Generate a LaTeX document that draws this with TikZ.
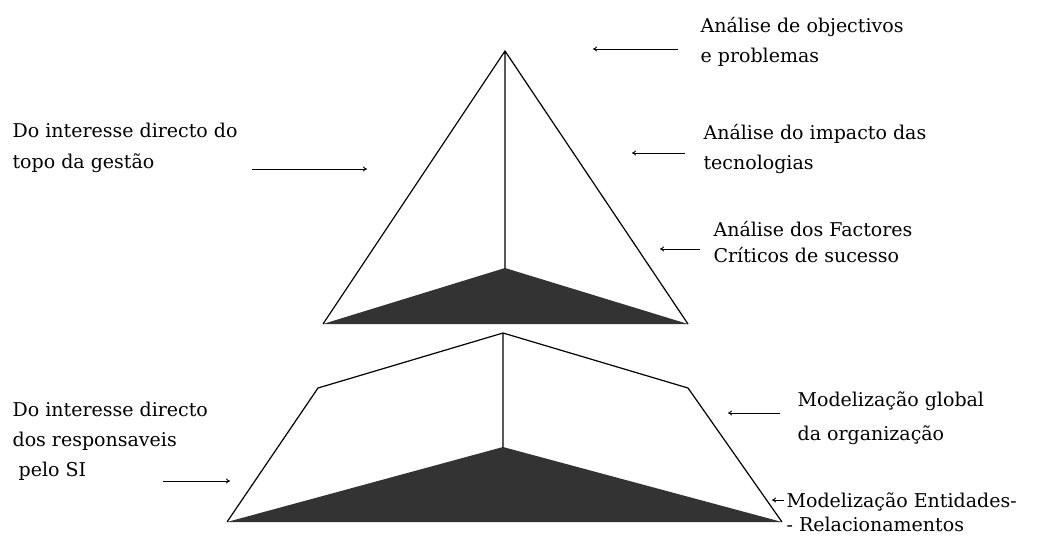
\documentclass[tikz,border=0pt]{standalone}
\usepackage{fontspec}
\setmainfont{DejaVu Serif}
\usetikzlibrary{arrows.meta,positioning}

\begin{document}
\begin{tikzpicture}[x=1pt,y=-1pt,line width=1.2pt,
  lbl/.style={font=\fontsize{19}{30}\selectfont,align=left,anchor=base west,inner sep=0pt},
  arr/.style={-{To[length=4pt,width=5pt]},line width=0.9pt}]
  \useasboundingbox (0,0) rectangle (1053,541);
  % upper pyramid
  \coordinate (Ta) at (505,51);
  \coordinate (Tl) at (323,324);
  \coordinate (Tr) at (688,324);
  \coordinate (Tm) at (505,268);
  \fill[black!80] (Tl)--(Tm)--(Tr)--cycle;
  \draw (Tl)--(Ta)--(Tr) (Ta)--(Tm);
  % lower pyramid
  \coordinate (Ba) at (503,333);
  \coordinate (Bsl) at (318,388);
  \coordinate (Bsr) at (688,388);
  \coordinate (Bl) at (227,522);
  \coordinate (Br) at (782,522);
  \coordinate (Bm) at (503,447);
  \fill[black!80] (Bl)--(Bm)--(Br)--cycle;
  \draw (Bl)--(Bsl)--(Ba)--(Bsr)--(Br) (Ba)--(Bm);
  % labels (anchored at the last line)
  \node[lbl] (obj) at (700,62) {Análise de objectivos\\e problemas};
  \node[lbl] (imp) at (703,169) {Análise do impacto das\\tecnologias};
  \node[lbl,font=\fontsize{19}{26}\selectfont] (fcs) at (713,262) {Análise dos Factores\\Críticos de sucesso};
  \node[lbl,font=\fontsize{19}{31}\selectfont] (topo) at (12,168) {Do interesse directo do\\topo da gestão};
  \node[lbl,font=\fontsize{19}{34}\selectfont] (glob) at (797,440) {Modelização global\\da organização};
  \node[lbl,font=\fontsize{19}{24}\selectfont] (er) at (786,531) {Modelização Entidades-\\- Relacionamentos};
  \node[lbl] (resp) at (12,476) {Do interesse directo\\dos responsaveis\\\ pelo SI};
  % arrows
  \coordinate (a1) at (678,49);  \coordinate (p1) at (593,49);
  \coordinate (a2) at (685,153); \coordinate (p2) at (632,153);
  \coordinate (a3) at (700,249); \coordinate (p3) at (660,249);
  \coordinate (a4) at (252,169); \coordinate (p4) at (367,169);
  \coordinate (a5) at (163,481); \coordinate (p5) at (230,481);
  \coordinate (a6) at (780,413); \coordinate (p6) at (728,413);
  \coordinate (a7) at (784,500); \coordinate (p7) at (772,500);
  \foreach \s/\t in {a1/p1,a2/p2,a3/p3,a4/p4,a5/p5,a6/p6,a7/p7}
    \draw[arr] (\s)--(\t);
\end{tikzpicture}
\end{document}
